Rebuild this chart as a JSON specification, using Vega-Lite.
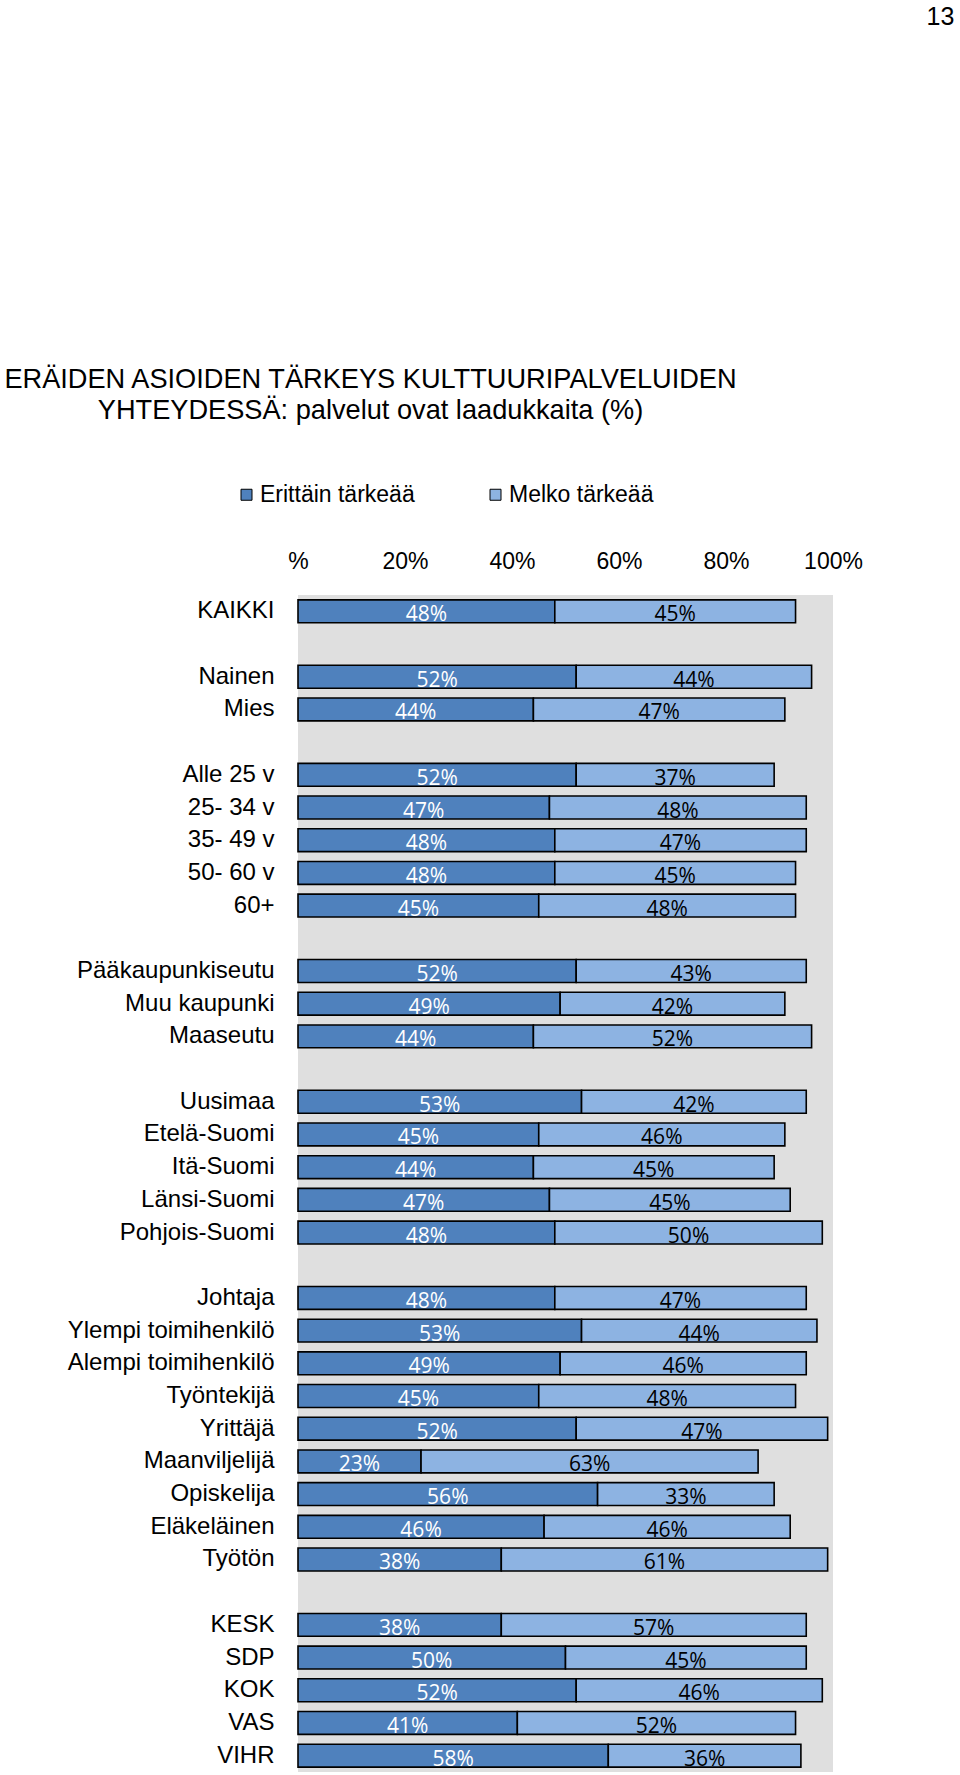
{
  "$schema": "https://vega.github.io/schema/vega-lite/v6.json",
  "width": 535,
  "height": 1177,
  "autosize": {"type": "none"},
  "padding": {"left": 298, "top": 595, "right": 127, "bottom": 3},
  "background": "white",
  "title": {
    "text": ["ERÄIDEN ASIOIDEN TÄRKEYS KULTTUURIPALVELUIDEN", "YHTEYDESSÄ: palvelut ovat laadukkaita (%)"],
    "font": "Liberation Sans",
    "fontSize": 27.2,
    "fontWeight": "normal",
    "color": "black",
    "anchor": "middle",
    "frame": "group",
    "dx": -195,
    "dy": 421,
    "offset": 0,
    "lineHeight": 30.5
  },
  "config": {
    "view": {"fill": "#dfdfdf", "stroke": null},
    "axis": {"labelFont": "Liberation Sans", "labelColor": "black", "titleFont": "Liberation Sans"}
  },
  "data": {
    "values": [
      {"group": "KAIKKI", "type": "Erittäin tärkeää", "value": 0.48},
      {"group": "KAIKKI", "type": "Melko tärkeää", "value": 0.45},
      {"group": "Nainen", "type": "Erittäin tärkeää", "value": 0.52},
      {"group": "Nainen", "type": "Melko tärkeää", "value": 0.44},
      {"group": "Mies", "type": "Erittäin tärkeää", "value": 0.44},
      {"group": "Mies", "type": "Melko tärkeää", "value": 0.47},
      {"group": "Alle 25 v", "type": "Erittäin tärkeää", "value": 0.52},
      {"group": "Alle 25 v", "type": "Melko tärkeää", "value": 0.37},
      {"group": "25- 34 v", "type": "Erittäin tärkeää", "value": 0.47},
      {"group": "25- 34 v", "type": "Melko tärkeää", "value": 0.48},
      {"group": "35- 49 v", "type": "Erittäin tärkeää", "value": 0.48},
      {"group": "35- 49 v", "type": "Melko tärkeää", "value": 0.47},
      {"group": "50- 60 v", "type": "Erittäin tärkeää", "value": 0.48},
      {"group": "50- 60 v", "type": "Melko tärkeää", "value": 0.45},
      {"group": "60+", "type": "Erittäin tärkeää", "value": 0.45},
      {"group": "60+", "type": "Melko tärkeää", "value": 0.48},
      {"group": "Pääkaupunkiseutu", "type": "Erittäin tärkeää", "value": 0.52},
      {"group": "Pääkaupunkiseutu", "type": "Melko tärkeää", "value": 0.43},
      {"group": "Muu kaupunki", "type": "Erittäin tärkeää", "value": 0.49},
      {"group": "Muu kaupunki", "type": "Melko tärkeää", "value": 0.42},
      {"group": "Maaseutu", "type": "Erittäin tärkeää", "value": 0.44},
      {"group": "Maaseutu", "type": "Melko tärkeää", "value": 0.52},
      {"group": "Uusimaa", "type": "Erittäin tärkeää", "value": 0.53},
      {"group": "Uusimaa", "type": "Melko tärkeää", "value": 0.42},
      {"group": "Etelä-Suomi", "type": "Erittäin tärkeää", "value": 0.45},
      {"group": "Etelä-Suomi", "type": "Melko tärkeää", "value": 0.46},
      {"group": "Itä-Suomi", "type": "Erittäin tärkeää", "value": 0.44},
      {"group": "Itä-Suomi", "type": "Melko tärkeää", "value": 0.45},
      {"group": "Länsi-Suomi", "type": "Erittäin tärkeää", "value": 0.47},
      {"group": "Länsi-Suomi", "type": "Melko tärkeää", "value": 0.45},
      {"group": "Pohjois-Suomi", "type": "Erittäin tärkeää", "value": 0.48},
      {"group": "Pohjois-Suomi", "type": "Melko tärkeää", "value": 0.50},
      {"group": "Johtaja", "type": "Erittäin tärkeää", "value": 0.48},
      {"group": "Johtaja", "type": "Melko tärkeää", "value": 0.47},
      {"group": "Ylempi toimihenkilö", "type": "Erittäin tärkeää", "value": 0.53},
      {"group": "Ylempi toimihenkilö", "type": "Melko tärkeää", "value": 0.44},
      {"group": "Alempi toimihenkilö", "type": "Erittäin tärkeää", "value": 0.49},
      {"group": "Alempi toimihenkilö", "type": "Melko tärkeää", "value": 0.46},
      {"group": "Työntekijä", "type": "Erittäin tärkeää", "value": 0.45},
      {"group": "Työntekijä", "type": "Melko tärkeää", "value": 0.48},
      {"group": "Yrittäjä", "type": "Erittäin tärkeää", "value": 0.52},
      {"group": "Yrittäjä", "type": "Melko tärkeää", "value": 0.47},
      {"group": "Maanviljelijä", "type": "Erittäin tärkeää", "value": 0.23},
      {"group": "Maanviljelijä", "type": "Melko tärkeää", "value": 0.63},
      {"group": "Opiskelija", "type": "Erittäin tärkeää", "value": 0.56},
      {"group": "Opiskelija", "type": "Melko tärkeää", "value": 0.33},
      {"group": "Eläkeläinen", "type": "Erittäin tärkeää", "value": 0.46},
      {"group": "Eläkeläinen", "type": "Melko tärkeää", "value": 0.46},
      {"group": "Työtön", "type": "Erittäin tärkeää", "value": 0.38},
      {"group": "Työtön", "type": "Melko tärkeää", "value": 0.61},
      {"group": "KESK", "type": "Erittäin tärkeää", "value": 0.38},
      {"group": "KESK", "type": "Melko tärkeää", "value": 0.57},
      {"group": "SDP", "type": "Erittäin tärkeää", "value": 0.50},
      {"group": "SDP", "type": "Melko tärkeää", "value": 0.45},
      {"group": "KOK", "type": "Erittäin tärkeää", "value": 0.52},
      {"group": "KOK", "type": "Melko tärkeää", "value": 0.46},
      {"group": "VAS", "type": "Erittäin tärkeää", "value": 0.41},
      {"group": "VAS", "type": "Melko tärkeää", "value": 0.52},
      {"group": "VIHR", "type": "Erittäin tärkeää", "value": 0.58},
      {"group": "VIHR", "type": "Melko tärkeää", "value": 0.36}
    ]
  },
  "encoding": {
    "y": {
      "field": "group",
      "type": "nominal",
      "scale": {
        "domain": ["KAIKKI", " ", "Nainen", "Mies", "  ", "Alle 25 v", "25- 34 v", "35- 49 v", "50- 60 v", "60+", "   ", "Pääkaupunkiseutu", "Muu kaupunki", "Maaseutu", "    ", "Uusimaa", "Etelä-Suomi", "Itä-Suomi", "Länsi-Suomi", "Pohjois-Suomi", "     ", "Johtaja", "Ylempi toimihenkilö", "Alempi toimihenkilö", "Työntekijä", "Yrittäjä", "Maanviljelijä", "Opiskelija", "Eläkeläinen", "Työtön", "      ", "KESK", "SDP", "KOK", "VAS", "VIHR"],
        "paddingInner": 0.3,
        "paddingOuter": 0.15
      },
      "axis": {
        "title": "13",
        "titleAngle": 0,
        "titleX": 642,
        "titleY": -579,
        "titleFontSize": 25,
        "titleFontWeight": "normal",
        "titleAlign": "center",
        "titleBaseline": "middle",
        "titleColor": "black",
        "labelFontSize": 24,
        "labelPadding": 24,
        "ticks": false,
        "domain": false,
        "labelLimit": 400
      }
    },
    "order": {"field": "type", "sort": "ascending"}
  },
  "layer": [
    {
      "mark": {"type": "bar", "stroke": "black", "strokeWidth": 1.6},
      "encoding": {
        "x": {
          "field": "value",
          "type": "quantitative",
          "stack": "zero",
          "scale": {"domain": [0, 1], "nice": false},
          "axis": {
            "orient": "top",
            "values": [0, 0.2, 0.4, 0.6, 0.8, 1],
            "format": ".0%",
            "labelExpr": "datum.value == 0 ? '%' : datum.label",
            "grid": false,
            "ticks": false,
            "domain": false,
            "labelFontSize": 23,
            "labelPadding": 22,
            "labelFlush": false,
            "title": null
          }
        },
        "color": {
          "field": "type",
          "type": "nominal",
          "scale": {"domain": ["Erittäin tärkeää", "Melko tärkeää"], "range": ["#4f81bd", "#8db3e2"]},
          "legend": {
            "orient": "none",
            "legendX": -63,
            "legendY": -112,
            "direction": "horizontal",
            "title": null,
            "symbolType": "square",
            "symbolSize": 121,
            "symbolStrokeColor": "black",
            "symbolStrokeWidth": 1,
            "labelFont": "Liberation Sans",
            "labelFontSize": 23,
            "labelColor": "black",
            "columnPadding": 69,
            "labelOffset": 2
          }
        }
      }
    },
    {
      "mark": {"type": "text", "font": "Open Sans", "fontSize": 21, "baseline": "middle", "dy": 4},
      "encoding": {
        "x": {"field": "value", "type": "quantitative", "stack": "zero", "bandPosition": 0.5},
        "detail": {"field": "type"},
        "text": {"field": "value", "type": "quantitative", "format": ".0%"},
        "color": {
          "condition": {"test": "datum.type == 'Erittäin tärkeää'", "value": "white"},
          "value": "black"
        }
      }
    }
  ]
}
